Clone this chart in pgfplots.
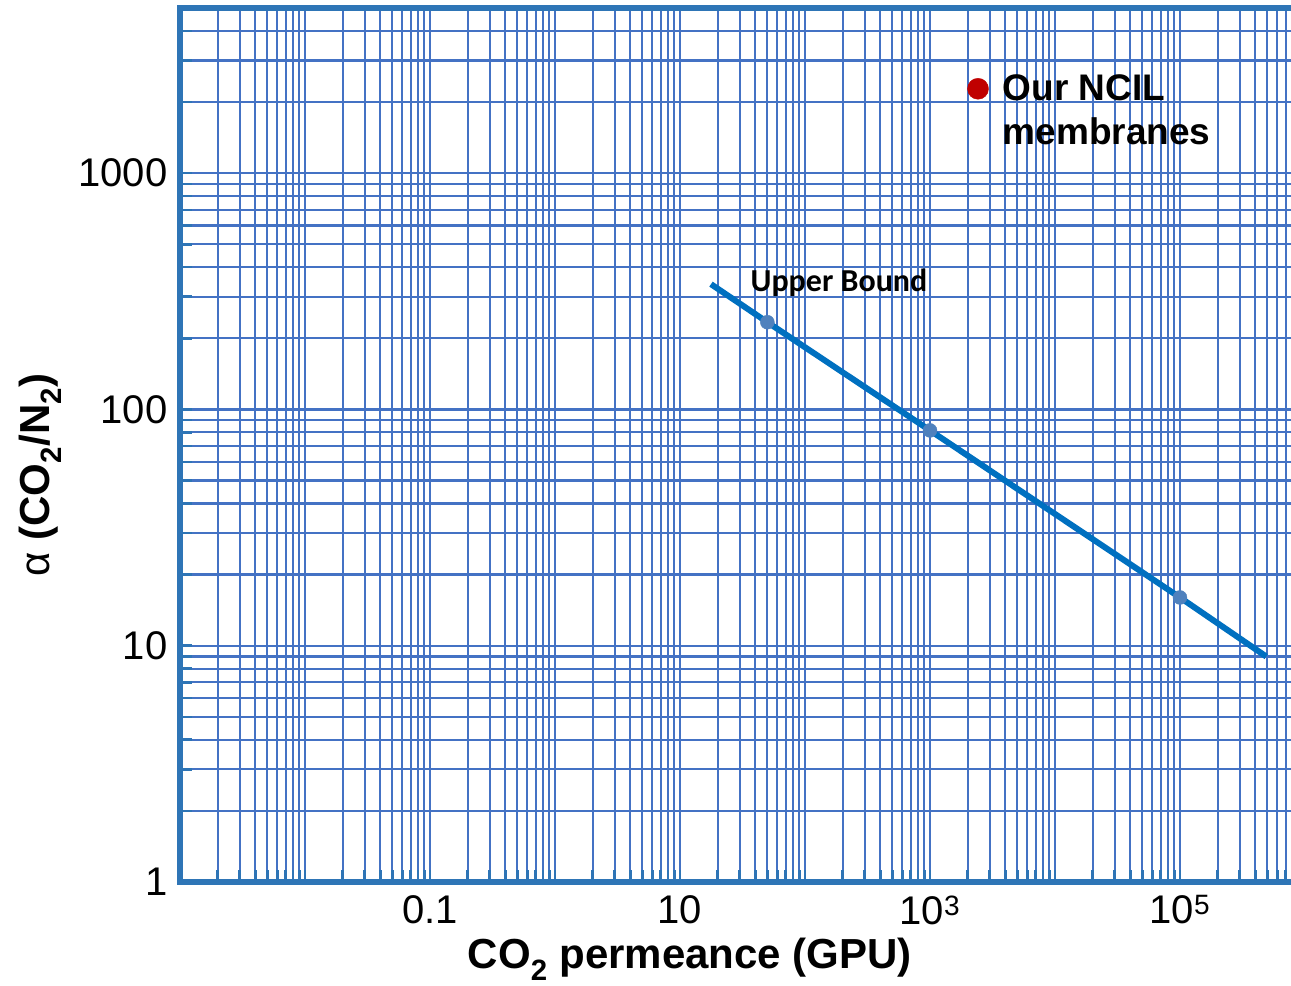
\documentclass[border=0pt]{standalone}
\usepackage{fontspec}
\setmainfont{Liberation Sans}
\newfontfamily\calibri{Carlito}
\usepackage{pgfplots}
\pgfplotsset{compat=1.18}
\definecolor{gridblue}{RGB}{68,114,196}
\definecolor{frameblue}{RGB}{46,117,182}
\definecolor{lineblue}{RGB}{0,112,192}
\definecolor{markblue}{RGB}{79,129,189}
\definecolor{ncilred}{RGB}{192,0,0}
\begin{document}
\begin{tikzpicture}
\useasboundingbox (-180bp,-104bp) rectangle (1111bp,882bp);
\begin{axis}[
  xmode=log, ymode=log,
  scale only axis,
  width=1125bp, height=874bp,
  xmin=1e-3, xmax=1e6, ymin=1, ymax=5000,
  xtick={1e-3,1e-2,1e-1,1,10,100,1e3,1e4,1e5,1e6},
  xticklabels={,,0.1,,10,,10\textsuperscript{3},,10\textsuperscript{5},},
  ytick={1,10,100,1000},
  yticklabels={1,10,100,1000},
  minor xtick={0.002,0.003,0.004,0.005,0.006,0.007,0.008,0.009,
    0.02,0.03,0.04,0.05,0.06,0.07,0.08,0.09,
    0.2,0.3,0.4,0.5,0.6,0.7,0.8,0.9,
    2,3,4,5,6,7,8,9,
    20,30,40,50,60,70,80,90,
    200,300,400,500,600,700,800,900,
    2000,3000,4000,5000,6000,7000,8000,9000,
    20000,30000,40000,50000,60000,70000,80000,90000,
    200000,300000,400000,500000,600000,700000,800000,900000},
  minor ytick={2,3,4,5,6,7,8,9,20,30,40,50,60,70,80,90,
    200,300,400,500,600,700,800,900,2000,3000,4000},
  grid=both,
  major grid style={line width=2.2bp, draw=gridblue},
  minor grid style={line width=2.2bp, draw=gridblue},
  tick align=inside, tick pos=left,
  major tick length=12bp, minor tick length=12bp,
  tick style={line width=2.5bp, draw=frameblue},
  axis line style={line width=6bp, draw=frameblue},
  ticklabel style={font=\fontsize{40bp}{48bp}\selectfont},
  xticklabel style={yshift=-10bp},
  yticklabel style={xshift=-9bp},
  xlabel={\textbf{CO\textsubscript{2} permeance (GPU)}},
  xlabel style={font=\fontsize{42bp}{50bp}\selectfont, at={(axis description cs:0.4533,-0.0990)}, anchor=base},
  ylabel={{\mdseries α}\textbf{ (CO\textsubscript{2}/N\textsubscript{2})}},
  ylabel style={font=\fontsize{42bp}{50bp}\selectfont, at={(axis description cs:-0.1240,0.4657)}, anchor=center},
  legend cell align=left,
  legend style={draw=none, fill=none, at={(axis description cs:0.697,0.928)}, anchor=north west,
    font=\bfseries\fontsize{37bp}{44bp}\selectfont, row sep=11bp, column sep=12bp},
]
\addplot[only marks, mark=*, mark size=7bp, color=markblue, forget plot]
  coordinates {(50,234) (1000,81.5) (1e5,16)};
\addplot[lineblue, line width=6bp, forget plot]
  coordinates {(17.7,339) (50,234) (1000,81.5) (1e5,16) (4.9e5,9.0)};
\addlegendimage{legend image code/.code={\fill[ncilred] (0bp,0bp) circle (10.5bp);}}
\addlegendentry{Our NCIL}
\addlegendimage{empty legend}
\addlegendentry{membranes}
\node[font=\calibri\bfseries\fontsize{32bp}{38bp}\selectfont] at (axis cs:187,345) {Upper Bound};
\end{axis}
\end{tikzpicture}
\end{document}
